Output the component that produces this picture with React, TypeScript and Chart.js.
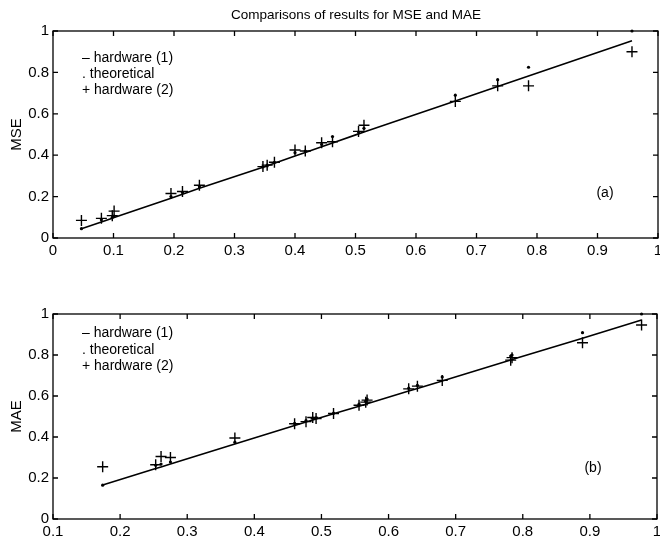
import React, { useEffect, useRef } from "react";
import { Chart, registerables } from "chart.js";
Chart.register(...registerables);

const FONT = "'Liberation Sans', Arial, Helvetica, sans-serif";

// ---- Panel (a): MSE ----
const mseX = [0.047, 0.080, 0.098, 0.101, 0.195, 0.214, 0.242, 0.347, 0.354, 0.366, 0.400, 0.417, 0.444, 0.462, 0.505, 0.514, 0.665, 0.735, 0.786, 0.957];
const mseHw1 = [0.045, 0.077, 0.096, 0.099, 0.192, 0.211, 0.240, 0.342, 0.349, 0.361, 0.396, 0.413, 0.441, 0.459, 0.503, 0.512, 0.662, 0.732, 0.783, 0.953];
const mseTheo = [0.045, 0.088, 0.100, 0.106, 0.200, 0.220, 0.248, 0.343, 0.352, 0.366, 0.412, 0.420, 0.452, 0.490, 0.512, 0.530, 0.690, 0.765, 0.825, 1.000];
const mseHw2 = [0.085, 0.095, 0.108, 0.130, 0.215, 0.225, 0.255, 0.345, 0.352, 0.366, 0.425, 0.420, 0.460, 0.465, 0.515, 0.545, 0.660, 0.735, 0.735, 0.900];
const mseXTicks = [0, 0.1, 0.2, 0.3, 0.4, 0.5, 0.6, 0.7, 0.8, 0.9, 1];

// ---- Panel (b): MAE ----
const maeX = [0.174, 0.253, 0.261, 0.275, 0.371, 0.460, 0.477, 0.487, 0.492, 0.518, 0.556, 0.566, 0.568, 0.630, 0.643, 0.680, 0.782, 0.784, 0.889, 0.977];
const maeHw1 = [0.166, 0.246, 0.254, 0.268, 0.366, 0.456, 0.473, 0.483, 0.488, 0.513, 0.550, 0.560, 0.562, 0.624, 0.637, 0.673, 0.776, 0.778, 0.882, 0.971];
const maeTheo = [0.165, 0.262, 0.268, 0.278, 0.375, 0.466, 0.480, 0.492, 0.494, 0.516, 0.560, 0.575, 0.585, 0.638, 0.652, 0.693, 0.795, 0.800, 0.909, 1.000];
const maeHw2 = [0.255, 0.265, 0.305, 0.300, 0.395, 0.465, 0.475, 0.495, 0.490, 0.515, 0.555, 0.570, 0.580, 0.635, 0.648, 0.676, 0.775, 0.787, 0.860, 0.946];
const maeXTicks = [0.1, 0.2, 0.3, 0.4, 0.5, 0.6, 0.7, 0.8, 0.9, 1];

const yTicks = [0, 0.2, 0.4, 0.6, 0.8, 1];
const legendLabels = ["\u2013 hardware (1)", ". theoretical", "+ hardware (2)"];
const figTitle = "Comparisons of results for MSE and MAE";

type Panel = {
  xs: number[]; hw1: number[]; theo: number[]; hw2: number[];
  xTicks: number[]; yLabel: string; tag: string;
  tagPos: [number, number]; legendX: number; legendY: number[];
  title?: { text: string; x: number; y: number };
  height: number; padTop: number; padRight: number; xAxisH: number;
};

function pts(xs: number[], ys: number[]) {
  return xs.map((x, i) => ({ x, y: ys[i] }));
}
function fmt(v: number) {
  return String(Math.round(v * 10) / 10);
}

function PanelChart({ p, top }: { p: Panel; top: number }) {
  const ref = useRef<HTMLCanvasElement>(null);
  useEffect(() => {
    const framePlugin = {
      id: "frame",
      afterDraw(chart: any) {
        const ctx = chart.ctx as CanvasRenderingContext2D;
        const { left, right, top: t, bottom } = chart.chartArea;
        const xs = chart.scales.x, ys = chart.scales.y;
        ctx.save();
        ctx.strokeStyle = "#000";
        ctx.lineWidth = 1.3;
        ctx.strokeRect(left, t, right - left, bottom - t);
        ctx.beginPath();
        p.xTicks.forEach((v) => {
          const px = xs.getPixelForValue(v);
          ctx.moveTo(px, bottom); ctx.lineTo(px, bottom - 5);
          ctx.moveTo(px, t); ctx.lineTo(px, t + 5);
        });
        yTicks.forEach((v) => {
          const py = ys.getPixelForValue(v);
          ctx.moveTo(left, py); ctx.lineTo(left + 5, py);
          ctx.moveTo(right, py); ctx.lineTo(right - 5, py);
        });
        ctx.stroke();
        ctx.fillStyle = "#000";
        ctx.font = `14px ${FONT}`;
        ctx.textAlign = "left";
        ctx.textBaseline = "middle";
        legendLabels.forEach((s, i) => ctx.fillText(s, p.legendX, p.legendY[i]));
        ctx.textAlign = "center";
        ctx.fillText(p.tag, p.tagPos[0], p.tagPos[1]);
        ctx.save();
        ctx.translate(17, (t + bottom) / 2);
        ctx.rotate(-Math.PI / 2);
        ctx.font = `15px ${FONT}`;
        ctx.fillText(p.yLabel, 0, 0);
        ctx.restore();
        if (p.title) {
          ctx.font = `13.5px ${FONT}`;
          ctx.fillText(p.title.text, p.title.x, p.title.y);
        }
        ctx.restore();
      },
    };
    const chart = new Chart(ref.current!, {
      type: "scatter",
      data: {
        datasets: [
          {
            label: "hardware (1)",
            data: pts(p.xs, p.hw1),
            showLine: true,
            borderColor: "#000",
            borderWidth: 1.6,
            pointRadius: 0,
            clip: false,
          },
          {
            label: "theoretical",
            data: pts(p.xs, p.theo),
            pointStyle: "circle",
            pointRadius: 1.6,
            backgroundColor: "#000",
            borderColor: "#000",
            borderWidth: 0,
            clip: false,
          },
          {
            label: "hardware (2)",
            data: pts(p.xs, p.hw2),
            pointStyle: "cross",
            pointRadius: 5.5,
            borderColor: "#000",
            borderWidth: 1.4,
            clip: false,
          },
        ],
      } as any,
      options: {
        animation: false,
        responsive: false,
        events: [],
        layout: { autoPadding: false, padding: { top: p.padTop, right: p.padRight, left: 0, bottom: 0 } },
        plugins: { legend: { display: false }, tooltip: { enabled: false }, title: { display: false } },
        scales: {
          x: {
            type: "linear",
            min: p.xTicks[0],
            max: p.xTicks[p.xTicks.length - 1],
            grid: { display: false, drawTicks: false },
            border: { display: false },
            afterBuildTicks: (s: any) => { s.ticks = p.xTicks.map((v) => ({ value: v })); },
            afterFit: (s: any) => {
              s.height = p.xAxisH;
              s.paddingLeft = 0; s.paddingRight = 0; s.paddingTop = 0; s.paddingBottom = 0;
            },
            ticks: {
              autoSkip: false,
              maxRotation: 0,
              padding: 4,
              color: "#000",
              font: { family: FONT, size: 15 },
              callback: (v: any) => fmt(Number(v)),
            },
          },
          y: {
            type: "linear",
            min: 0,
            max: 1,
            grid: { display: false, drawTicks: false },
            border: { display: false },
            afterBuildTicks: (s: any) => { s.ticks = yTicks.map((v) => ({ value: v })); },
            afterFit: (s: any) => {
              s.width = 53;
              s.paddingLeft = 0; s.paddingRight = 0; s.paddingTop = 0; s.paddingBottom = 0;
            },
            ticks: {
              autoSkip: false,
              padding: 4,
              color: "#000",
              font: { family: FONT, size: 15 },
              callback: (v: any) => fmt(Number(v)),
            },
          },
        },
      } as any,
      plugins: [framePlugin],
    });
    return () => chart.destroy();
  }, []);
  return (
    <canvas
      ref={ref}
      width={660}
      height={p.height}
      style={{ position: "absolute", left: 0, top, width: 660, height: p.height, display: "block" }}
    />
  );
}

const panelA: Panel = {
  xs: mseX, hw1: mseHw1, theo: mseTheo, hw2: mseHw2,
  xTicks: mseXTicks, yLabel: "MSE", tag: "(a)",
  tagPos: [605, 193], legendX: 82, legendY: [58, 74, 90],
  title: { text: figTitle, x: 356, y: 15 },
  height: 265, padTop: 31, padRight: 2, xAxisH: 27,
};

const panelB: Panel = {
  xs: maeX, hw1: maeHw1, theo: maeTheo, hw2: maeHw2,
  xTicks: maeXTicks, yLabel: "MAE", tag: "(b)",
  tagPos: [593, 198], legendX: 82, legendY: [63, 80, 96],
  height: 273, padTop: 44, padRight: 3, xAxisH: 24,
};

export default function App() {
  return (
    <div style={{ position: "absolute", left: 0, top: 0, width: 660, height: 543, background: "#fff", overflow: "hidden" }}>
      <PanelChart p={panelA} top={0} />
      <PanelChart p={panelB} top={270} />
    </div>
  );
}
